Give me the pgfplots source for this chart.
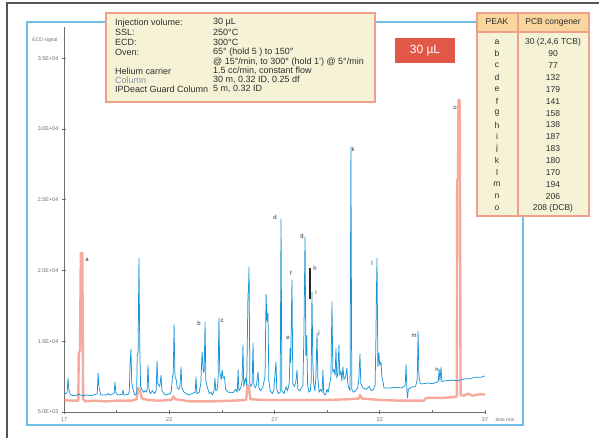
\documentclass[border=0pt]{standalone}
\usepackage{fontspec}
\setmainfont{Liberation Sans}
\usepackage{pgfplots}
\pgfplotsset{compat=1.18}
\definecolor{framegray}{RGB}{85,85,85}
\definecolor{frameblue}{RGB}{110,190,232}
\definecolor{traceblue}{RGB}{25,150,215}
\definecolor{tracered}{RGB}{240,125,105}
\definecolor{boxfill}{RGB}{245,242,214}
\definecolor{boxedge}{RGB}{240,160,138}
\definecolor{headfill}{RGB}{248,214,158}
\definecolor{redbox}{RGB}{226,88,72}
\definecolor{txt}{RGB}{45,45,45}
\definecolor{colgray}{RGB}{130,145,165}
\definecolor{axgray}{RGB}{110,110,110}
\begin{document}
\begin{tikzpicture}
\begin{scope}[x=1pt,y=1pt]
\useasboundingbox (0,0) rectangle (599,438);
\fill[white] (0,0) rectangle (599,438);
\draw[framegray, line width=1.6pt] (7,0) -- (7,435) -- (599,435);
\draw[frameblue, line width=1.2pt] (27,13) rectangle (523,416);
\end{scope}
\begin{axis}[
  at={(64pt,26pt)}, anchor=south west,
  scale only axis, width=421pt, height=385pt,
  xmin=17, xmax=37, ymin=10000, ymax=37200,
  axis x line*=bottom, axis y line*=left,
  axis line style={draw=axgray, line width=0.8pt},
  xtick={17,22,27,32,37}, minor xtick={19.5,24.5,29.5,34.5},
  ytick={10000,15000,20000,25000,30000,35000},
  yticklabels={5.0E+03,1.5E+04,2.0E+04,2.5E+04,3.0E+04,3.5E+04},
  scaled ticks=false,
  tick align=center, major tick length=4pt, minor tick length=3pt,
  tick style={draw=axgray, line width=0.6pt},
  ticklabel style={font=\fontsize{5.5}{6}\selectfont, text=axgray},
  /pgf/number format/assume math mode=true,
  xtick pos=bottom, ytick pos=left,
  clip=false,
]
\addplot[tracered, opacity=0.65, line width=2.4pt, line join=round] coordinates {
(17.00,10850)(17.30,10800)(17.60,10800)(17.68,10800)(17.70,14200)(17.76,14300)
(17.80,21230)(17.87,21230)(17.91,10900)(18.00,10750)(18.50,10800)(19.00,10750)
(19.50,10800)(20.20,10800)(20.45,10900)(20.52,11700)(20.60,11600)(20.70,10950)
(21.00,10850)(21.50,10800)(22.10,10850)(22.20,11100)(22.28,10900)(23.00,10750)
(24.00,10750)(25.00,10800)(25.65,10850)(25.72,11900)(25.78,11800)(25.85,10900)
(26.50,10850)(27.50,10850)(28.50,10850)(29.50,10850)(30.50,10900)(31.00,10950)
(31.06,11200)(31.15,10950)(32.00,10850)(33.00,10800)(34.10,10800)(34.20,11000)
(35.00,11000)(35.50,11050)(35.66,11100)(35.68,26380)(35.72,26500)(35.74,32030)
(35.80,32030)(35.84,11200)(36.00,11150)(36.20,11300)(36.40,11150)(36.70,11250)
(37.00,11250)
};
\addplot[traceblue, line width=0.75pt, line join=round] coordinates {
(17.00,11340)(17.10,11300)(17.15,11400)(17.19,12400)(17.23,11600)(17.30,11200)
(17.50,11150)(17.70,11250)(17.90,11150)(18.10,11200)(18.30,11150)(18.50,11250)
(18.58,11300)(18.62,12750)(18.66,11800)(18.70,11500)(18.75,11200)(19.00,11200)
(19.10,11300)(19.15,11200)(19.38,11300)(19.42,12120)(19.46,11400)(19.55,11200)
(19.76,11250)(19.80,11550)(19.84,11200)(20.05,11250)(20.10,11400)(20.14,13400)
(20.18,14450)(20.22,12000)(20.30,11500)(20.36,11200)(20.45,11300)(20.48,14000)
(20.52,14200)(20.56,20870)(20.60,14500)(20.64,11800)(20.70,11600)(20.78,11400)
(20.85,11500)(20.90,11400)(20.95,11600)(20.99,13320)(21.03,11700)(21.10,11300)
(21.20,11500)(21.30,11300)(21.38,11500)(21.42,13600)(21.46,12000)(21.55,11800)
(21.61,12600)(21.65,11500)(21.80,11200)(21.95,11250)(22.05,11300)(22.10,11500)
(22.15,12500)(22.19,12700)(22.23,16140)(22.27,12500)(22.33,12300)(22.38,11700)
(22.45,11600)(22.51,11800)(22.56,13180)(22.60,11700)(22.70,11400)(22.80,11300)
(22.90,11200)(23.00,11250)(23.10,11300)(23.23,11400)(23.27,12470)(23.31,11300)
(23.42,11400)(23.50,12000)(23.56,14240)(23.62,12800)(23.66,12900)(23.70,16350)
(23.74,12200)(23.80,11800)(23.90,11300)(23.98,11400)(24.05,11200)(24.13,11500)
(24.17,12400)(24.21,11500)(24.28,11600)(24.32,12300)(24.36,16640)(24.40,12800)
(24.47,12300)(24.51,12970)(24.56,12400)(24.62,12500)(24.68,11600)(24.80,11400)
(24.95,11350)(25.05,11400)(25.15,11600)(25.23,11400)(25.27,12970)(25.31,11500)
(25.40,11700)(25.46,12200)(25.50,14730)(25.54,11800)(25.62,12400)(25.68,11900)
(25.74,18400)(25.76,18470)(25.79,20240)(25.83,12000)(25.89,11800)(25.94,12100)
(25.98,14870)(26.02,11900)(26.10,11700)(26.15,12000)(26.22,12820)(26.26,11700)
(26.35,11500)(26.45,11800)(26.55,12500)(26.60,18330)(26.64,16400)(26.69,16990)
(26.73,12200)(26.80,11500)(26.90,11300)(26.97,11600)(27.02,12600)(27.07,13530)
(27.11,11600)(27.18,11300)(27.27,11400)(27.31,23630)(27.35,11500)(27.45,11300)
(27.55,11800)(27.62,11500)(27.70,12000)(27.74,14520)(27.77,13500)(27.80,16500)
(27.83,19320)(27.87,12000)(27.95,11800)(28.02,12200)(28.07,12970)(28.11,11600)
(28.20,11500)(28.28,11700)(28.35,11900)(28.40,15700)(28.45,22360)(28.49,14000)
(28.53,15400)(28.57,12000)(28.63,11400)(28.70,11500)(28.74,12200)(28.78,18470)
(28.82,13500)(28.86,12000)(28.92,11500)(28.97,12500)(29.02,15580)(29.06,12400)
(29.12,11400)(29.20,11600)(29.26,11400)(29.30,12970)(29.34,11300)(29.42,11200)
(29.50,11600)(29.55,11400)(29.62,12000)(29.68,12500)(29.73,17770)(29.77,12800)
(29.83,13000)(29.88,12600)(29.92,14520)(29.96,12400)(30.01,12700)(30.06,14730)
(30.10,12600)(30.16,12900)(30.20,12200)(30.25,13180)(30.30,12300)(30.38,12500)
(30.44,13100)(30.48,12000)(30.53,11700)(30.59,11500)(30.63,28710)(30.67,11600)
(30.75,11400)(30.85,11500)(30.95,11700)(31.01,12400)(31.06,14100)(31.10,12000)
(31.20,11700)(31.35,11600)(31.50,11800)(31.60,11500)(31.70,11600)(31.78,11900)
(31.82,15400)(31.84,18200)(31.87,20870)(31.91,13200)(31.96,14170)(32.00,13300)
(32.06,13530)(32.10,12500)(32.15,12200)(32.20,11700)(32.50,11700)(32.80,11750)
(33.05,11700)(33.15,11800)(33.21,11900)(33.25,13320)(33.29,11600)(33.32,11000)
(33.36,11600)(33.50,11750)(33.70,11800)(33.78,12300)(33.82,15720)(33.86,12600)
(33.92,12000)(34.10,12000)(34.30,12050)(34.50,12000)(34.70,12100)(34.78,12150)
(34.82,13000)(34.86,12200)(34.91,13180)(34.95,12150)(35.10,12200)(35.40,12250)
(35.70,12200)(35.90,12300)(36.10,12350)(36.30,12350)(36.50,12450)(36.80,12450)
(37.00,12550)
};
\end{axis}
\begin{scope}[x=1pt,y=1pt]
% axis descriptions
\node[font=\fontsize{5}{6}\selectfont, text=axgray] at (45,398) {ECD signal};
\node[font=\fontsize{5}{6}\selectfont, text=axgray] at (505,18) {time min};
% peak labels
\begin{scope}[every node/.style={font=\fontsize{6}{7}\selectfont, text=txt, inner sep=0.5pt}]
\node at (87,178) {a};
\node at (199,115) {b};
\node at (222,117) {c};
\node at (275,221) {d};
\node at (288,100) {e};
\node at (291,165) {f};
\node at (302,201) {g};
\node at (315,170) {h};
\node at (316,146) {i};
\node at (319,105) {j};
\node at (353,289) {k};
\node at (372,175) {l};
\node at (414,102) {m};
\node at (437,68) {n};
\node at (455,330) {o};
\end{scope}
\draw[black!85, line width=1.1pt] (310,170) -- (310,139);
% info box
\draw[boxedge, line width=2pt, fill=boxfill] (106,425) rectangle (375,336);
\begin{scope}[every node/.style={font=\fontsize{9}{10}\selectfont, text=txt, inner sep=0pt, anchor=west}]
\node at (115,415.3) {Injection volume:};  \node at (213,415.3) {30 µL};
\node at (115,405.7) {SSL:};               \node at (213,405.7) {250°C};
\node at (115,395.7) {ECD:};               \node at (213,395.7) {300°C};
\node at (115,385.7) {Oven:};              \node at (213,385.7) {65° (hold 5 ) to 150°};
                                           \node at (213,376.3) {@ 15°/min, to 300° (hold 1') @ 5°/min};
\node at (115,367.0) {Helium carrier};     \node at (213,367.0) {1.5 cc/min, constant flow};
\node[text=colgray] at (115,358.0) {Column}; \node at (213,358.0) {30 m, 0.32 ID, 0.25 df};
\node at (115,348.7) {IPDeact Guard Column}; \node at (213,348.7) {5 m, 0.32 ID};
\end{scope}
% red label box
\fill[redbox] (395,400) rectangle (455,375);
\node[font=\fontsize{12}{14}\selectfont, text=white] at (425,387.5) {30 µL};
% table
\fill[boxfill] (477,425) rectangle (589,222);
\fill[headfill] (477,425) rectangle (589,406);
\draw[boxedge, line width=1.2pt] (477,406) -- (589,406);
\draw[boxedge, line width=1.2pt] (518,425) -- (518,222);
\draw[boxedge, line width=2pt] (477,425) rectangle (589,222);
\begin{scope}[every node/.style={font=\fontsize{8.5}{10}\selectfont, text=txt, inner sep=0pt}]
\node at (497,416) {PEAK};
\node at (553,416) {PCB congener};
\foreach \l/\v [count=\i from 0] in {a/{30 (2,4,6 TCB)},b/90,c/77,d/132,e/179,f/141,g/158,h/138,i/187,j/183,k/180,l/170,m/194,n/206,o/{208 (DCB)}} {
  \node at (497,{396-11.86*\i}) {\l};
  \node at (553,{396-11.86*\i}) {\v};
}
\end{scope}
\end{scope}
\end{tikzpicture}
\end{document}
